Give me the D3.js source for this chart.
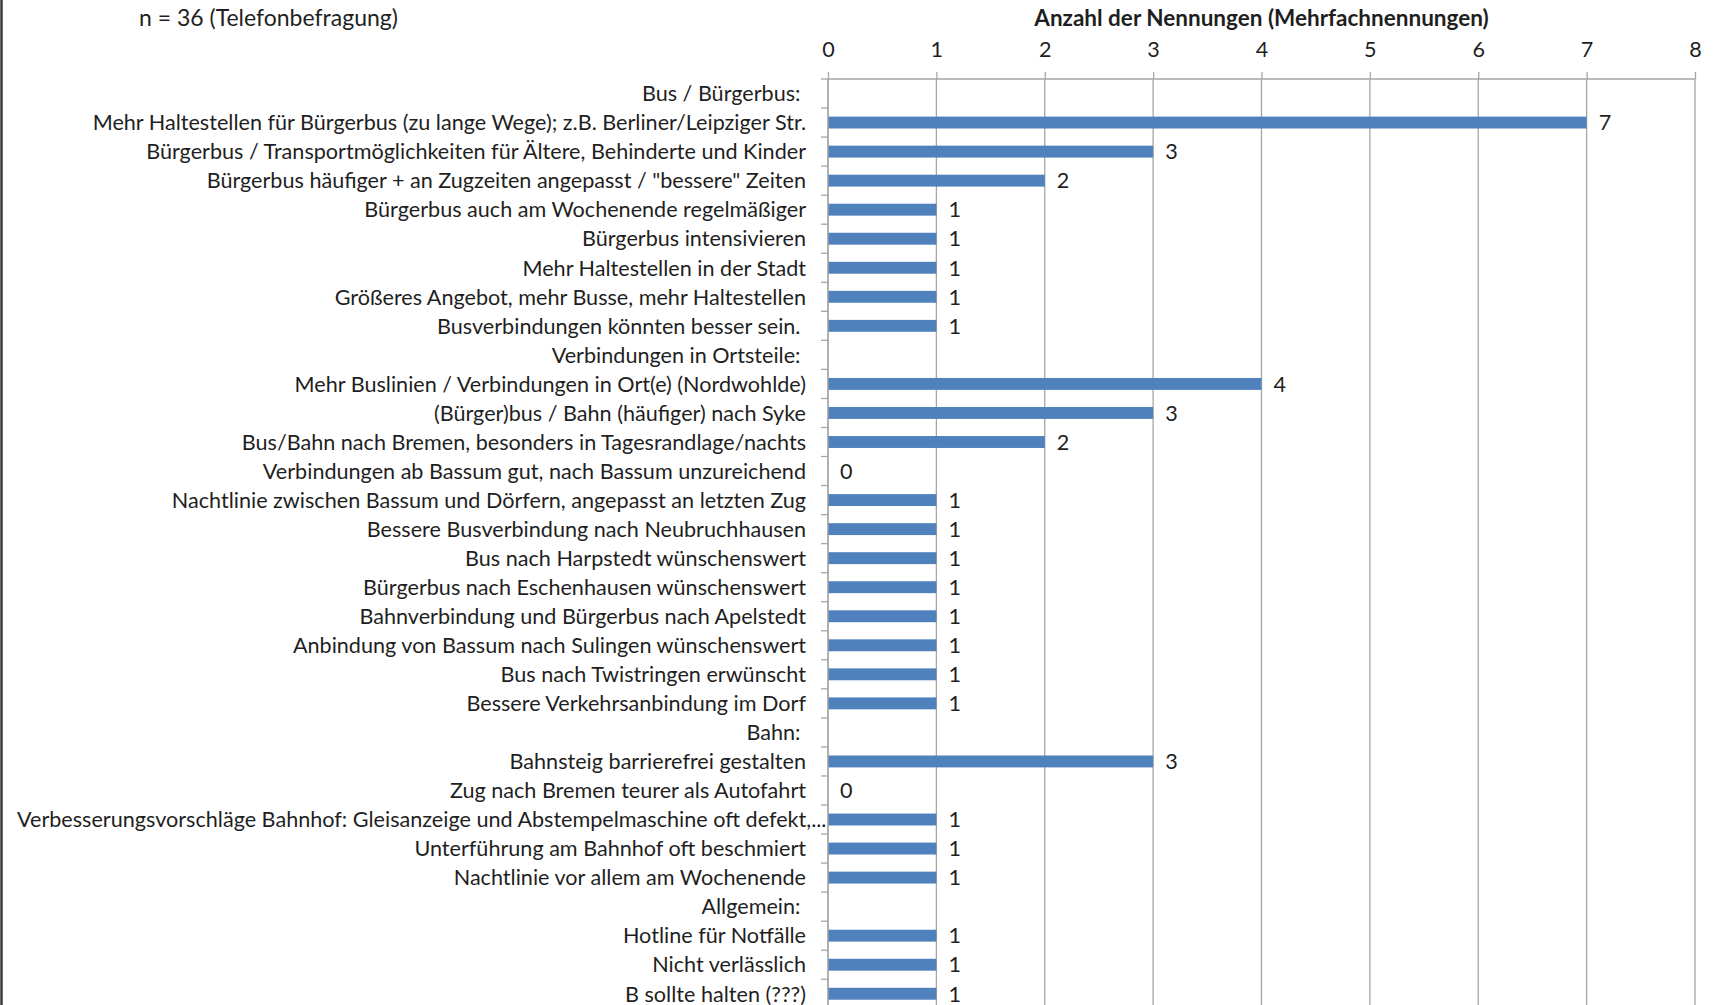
<!DOCTYPE html>
<html>
<head>
<meta charset="utf-8">
<script src="https://cdn.jsdelivr.net/npm/d3@7"></script>
<style>
  html, body { margin: 0; padding: 0; background: #fff; }
  svg { display: block; }
  text { font-family: Lato, "Open Sans", sans-serif; fill: #1f1f1f; white-space: pre; }
</style>
</head>
<body>
<svg id="chart" width="1715" height="1005"></svg>
<script>
const categories = [
  "Bus / Bürgerbus: ",
  "Mehr Haltestellen für Bürgerbus (zu lange Wege); z.B. Berliner/Leipziger Str.",
  "Bürgerbus / Transportmöglichkeiten für Ältere, Behinderte und Kinder",
  "Bürgerbus häufiger + an Zugzeiten angepasst / \"bessere\" Zeiten",
  "Bürgerbus auch am Wochenende regelmäßiger",
  "Bürgerbus intensivieren",
  "Mehr Haltestellen in der Stadt",
  "Größeres Angebot, mehr Busse, mehr Haltestellen",
  "Busverbindungen könnten besser sein. ",
  "Verbindungen in Ortsteile: ",
  "Mehr Buslinien / Verbindungen in Ort(e) (Nordwohlde)",
  "(Bürger)bus / Bahn (häufiger) nach Syke",
  "Bus/Bahn nach Bremen, besonders in Tagesrandlage/nachts",
  "Verbindungen ab Bassum gut, nach Bassum unzureichend",
  "Nachtlinie zwischen Bassum und Dörfern, angepasst an letzten Zug",
  "Bessere Busverbindung nach Neubruchhausen",
  "Bus nach Harpstedt wünschenswert",
  "Bürgerbus nach Eschenhausen wünschenswert",
  "Bahnverbindung und Bürgerbus nach Apelstedt",
  "Anbindung von Bassum nach Sulingen wünschenswert",
  "Bus nach Twistringen erwünscht",
  "Bessere Verkehrsanbindung im Dorf",
  "Bahn: ",
  "Bahnsteig barrierefrei gestalten",
  "Zug nach Bremen teurer als Autofahrt",
  "Verbesserungsvorschläge Bahnhof: Gleisanzeige und Abstempelmaschine oft defekt,...",
  "Unterführung am Bahnhof oft beschmiert",
  "Nachtlinie vor allem am Wochenende",
  "Allgemein: ",
  "Hotline für Notfälle",
  "Nicht verlässlich",
  "B sollte halten (???)"
];
// null = section header (no bar, no label)
const values = [
  null, 7, 3, 2, 1, 1, 1, 1, 1,
  null, 4, 3, 2, 0, 1, 1, 1, 1, 1, 1, 1, 1,
  null, 3, 0, 1, 1, 1,
  null, 1, 1, 1
];
const xTicks = [0, 1, 2, 3, 4, 5, 6, 7, 8];
const xDomain = [0, 8];
const axisTitle = "Anzahl der Nennungen (Mehrfachnennungen)";
const sampleTitle = "n = 36 (Telefonbefragung)";

const svg = d3.select("#chart");
const plotLeft = 828, plotRight = 1695, plotTop = 79;
const step = 29.04;
const plotBottom = plotTop + step * categories.length;
const fs = 21.6;

const x = d3.scaleLinear().domain(xDomain).range([plotLeft, plotRight]);
const y = d3.scaleBand().domain(d3.range(categories.length))
  .range([plotTop, plotBottom]).paddingInner(0.59).paddingOuter(0.295);

// left border of the frame
svg.append("line").attr("x1", 1.5).attr("x2", 1.5).attr("y1", 0).attr("y2", 1005)
  .attr("stroke", "#3a3a3a").attr("stroke-width", 2.5);

// gridlines + top axis
const gx = svg.append("g").attr("transform", `translate(0,${plotTop})`)
  .call(d3.axisTop(x).tickValues(xTicks).tickSize(7).tickPadding(15).tickFormat(d3.format("d")));
gx.select(".domain").attr("stroke", "#a6a6a6").attr("stroke-width", 1.3).attr("d", `M${plotLeft},0H${plotRight}`);
gx.selectAll(".tick line").attr("stroke", "#a6a6a6").attr("stroke-width", 1.3);
gx.selectAll(".tick text").attr("font-size", fs).attr("fill", "#1f1f1f")
  .style("font-family", "Lato, 'Open Sans', sans-serif");

svg.append("g").selectAll("line").data(xTicks).join("line")
  .attr("x1", d => x(d)).attr("x2", d => x(d))
  .attr("y1", plotTop).attr("y2", 1005)
  .attr("stroke", "#a6a6a6").attr("stroke-width", 1.3);

// y axis boundary ticks
const boundaries = d3.range(categories.length + 1).map(i => plotTop + i * y.step());
svg.append("g").selectAll("line").data(boundaries).join("line")
  .attr("x1", plotLeft - 7).attr("x2", plotLeft)
  .attr("y1", d => d).attr("y2", d => d)
  .attr("stroke", "#a6a6a6").attr("stroke-width", 1.3);

// bars
const data = categories.map((c, i) => ({ c, i, v: values[i] }));
svg.append("g").selectAll("rect").data(data.filter(d => d.v !== null)).join("rect")
  .attr("x", x(0))
  .attr("y", d => y(d.i))
  .attr("width", d => x(d.v) - x(0))
  .attr("height", y.bandwidth())
  .attr("fill", "#4f81bd");

// axis line
svg.append("line").attr("x1", plotLeft).attr("x2", plotLeft).attr("y1", plotTop).attr("y2", 1005)
  .attr("stroke", "#a6a6a6").attr("stroke-width", 1.3);

// value labels
svg.append("g").selectAll("text").data(data.filter(d => d.v !== null)).join("text")
  .attr("x", d => x(d.v) + 12)
  .attr("y", d => y(d.i) + y.bandwidth() / 2)
  .attr("dy", "0.36em")
  .attr("font-size", fs)
  .text(d => d.v);

// category labels
const labelRight = 806;
const lbl = svg.append("g").selectAll("text").data(data).join("text")
  .attr("font-size", fs)
  .attr("text-anchor", "end")
  .attr("dy", "0.36em")
  .text(d => d.c);
lbl.each(function(d) {
  const w = this.getComputedTextLength();
  let xr = labelRight;
  if (xr - w < 17) xr = 17 + w;
  d3.select(this).attr("x", xr).attr("y", y(d.i) + y.bandwidth() / 2);
});

// titles
svg.append("text")
  .attr("x", (plotLeft + plotRight) / 2).attr("y", 18)
  .attr("text-anchor", "middle").attr("dy", "0.36em")
  .attr("font-size", 22.5).attr("font-weight", "bold")
  .text(axisTitle);
svg.append("text")
  .attr("x", 139).attr("y", 18)
  .attr("dy", "0.36em")
  .attr("font-size", 23)
  .text(sampleTitle);
</script>
</body>
</html>
